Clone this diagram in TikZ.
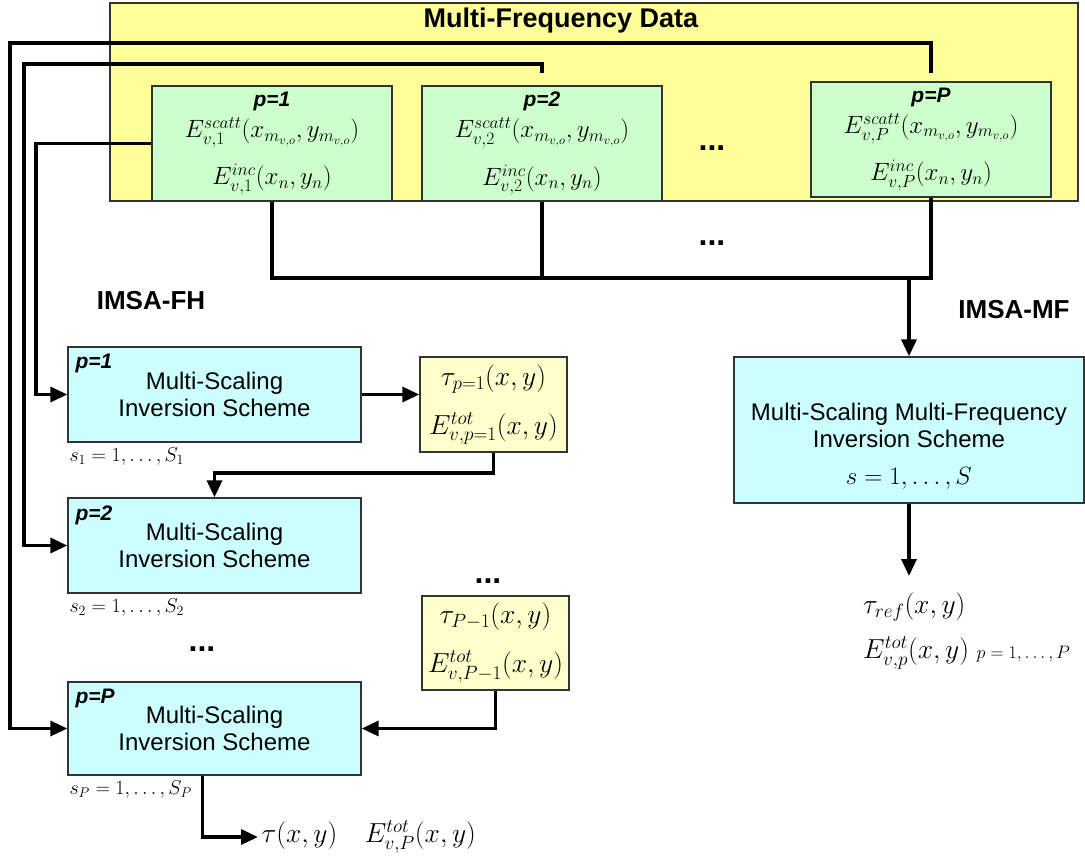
\documentclass[tikz,border=0pt]{standalone}
\usepackage{fix-cm}
\usepackage{amsmath}
\usepackage[no-math]{fontspec}
\setmainfont{Liberation Sans}
\usetikzlibrary{positioning,arrows.meta}
\definecolor{datayellow}{HTML}{FFFF99}
\definecolor{datagreen}{HTML}{CCFFCC}
\definecolor{schemecyan}{HTML}{CCFFFF}
\definecolor{fieldyellow}{HTML}{FFFFCC}
\newcommand{\boxrule}{1.4pt}
\newcommand{\wirewidth}{3.4pt}
\newcommand{\mathsize}{\fontsize{25}{29}\selectfont}
\newcommand{\bigmath}{\fontsize{27.5}{31}\selectfont}
\newcommand{\rangemath}{\fontsize{20}{24}\selectfont}
\newcommand{\smallmath}{\fontsize{18}{22}\selectfont}
\newcommand{\textsize}{\fontsize{24}{27}\selectfont}
\newcommand{\pname}[1]{{\fontsize{21}{23}\selectfont\bfseries\itshape #1}}

\begin{document}
\begin{tikzpicture}[x=1pt,y=-1pt,
    box/.style={draw=black!80, line width=\boxrule, inner sep=0pt, align=center},
    databox/.style={box, fill=datagreen, minimum width=240pt, minimum height=115pt, font=\mathsize},
    schemebox/.style={box, fill=schemecyan, minimum width=293pt, minimum height=95pt, font=\textsize},
    fieldbox/.style={box, fill=fieldyellow, minimum width=147pt, minimum height=95pt, font=\bigmath},
    wire/.style={line width=\wirewidth},
    link/.style={wire, -{Triangle[length=17pt,width=15pt]}},
    dots/.style={font=\fontsize{32}{32}\selectfont\bfseries},
    tag/.style={font=\fontsize{26}{28}\selectfont\bfseries},
    srange/.style={anchor=north west, inner sep=0pt, font=\rangemath}]
  \useasboundingbox (0,0) rectangle (1085,859);

  % data for every frequency
  \node[box, fill=datayellow, minimum width=968pt, minimum height=198pt] (mfd) at (594,102) {};
  \node[font=\fontsize{27}{30}\selectfont\bfseries] (mfdtitle) at (561,21) {Multi-Frequency Data};
  \node[databox] (d1) at (272,143.5) {\pname{p=1}\\[2pt] $E^{scatt}_{v,1}(x_{m_{v,o}},y_{m_{v,o}})$\\[16pt] $E^{inc}_{v,1}(x_n,y_n)$};
  \node[databox] (d2) at (542,143.5) {\pname{p=2}\\[2pt] $E^{scatt}_{v,2}(x_{m_{v,o}},y_{m_{v,o}})$\\[16pt] $E^{inc}_{v,2}(x_n,y_n)$};
  \node[databox] (dP) at (931,139.5) {\pname{p=P}\\[2pt] $E^{scatt}_{v,P}(x_{m_{v,o}},y_{m_{v,o}})$\\[16pt] $E^{inc}_{v,P}(x_n,y_n)$};
  \node[dots] (ddots) at (712,148) {...};
  \node[dots] (bdots) at (712,243) {...};

  % IMSA-FH
  \node[tag] (fh) at (151,301) {IMSA-FH};
  \node[schemebox] (m1) at (214.5,394.5) {Multi-Scaling\\Inversion Scheme};
  \node[schemebox] (m2) at (214.5,545.5) {Multi-Scaling\\Inversion Scheme};
  \node[schemebox, minimum height=93pt] (mP) at (214.5,728.5) {Multi-Scaling\\Inversion Scheme};
  \node[anchor=north west, inner sep=0pt] (m1p) at ([shift={(8,8)}]m1.north west) {\pname{p=1}};
  \node[anchor=north west, inner sep=0pt] (m2p) at ([shift={(8,8)}]m2.north west) {\pname{p=2}};
  \node[anchor=north west, inner sep=0pt] (mPp) at ([shift={(8,8)}]mP.north west) {\pname{p=P}};
  \node[srange] (s1) at ([shift={(2,5)}]m1.south west) {$s_1=1,\ldots,S_1$};
  \node[srange] (s2) at ([shift={(2,5)}]m2.south west) {$s_2=1,\ldots,S_2$};
  \node[srange] (sP) at ([shift={(2,5)}]mP.south west) {$s_P=1,\ldots,S_P$};
  \node[dots] (mdots) at (202,649) {...};
  \node[fieldbox] (t1) at (493.5,404.5) {$\tau_{p=1}(x,y)$\\[18pt] $E^{tot}_{v,p=1}(x,y)$};
  \node[fieldbox, minimum height=94pt] (t2) at (495.5,643) {$\tau_{P-1}(x,y)$\\[18pt] $E^{tot}_{v,P-1}(x,y)$};
  \node[dots] (tdots) at (488,581) {...};
  \node[anchor=west, font=\bigmath] (fhres) at (258,837) {$\tau(x,y)$\quad $E^{tot}_{v,P}(x,y)$};

  % IMSA-MF
  \node[tag] (mftag) at (1014,310) {IMSA-MF};
  \node[box, fill=schemecyan, minimum width=350pt, minimum height=146pt] (mf) at (909,430) {};
  \node[align=center, font=\textsize] (mftext) at (909,446) {Multi-Scaling Multi-Frequency\\Inversion Scheme\\[10pt] {\mathsize$s=1,\ldots,S$}};
  \node[anchor=north west, align=left, font=\bigmath, inner sep=0pt] (mfres) at (863,593) {$\tau_{ref}(x,y)$\\[14pt] $E^{tot}_{v,p}(x,y)$ {\smallmath$p=1,\ldots,P$}};
  \coordinate (mfend) at (909,576);

  % feeds from the data
  \coordinate (c1) at (10,43);
  \coordinate (c2) at (24,64);
  \coordinate (c3) at (36,143.5);
  \coordinate (bus) at (700,278);
  \coordinate (c4) at (300,473);
  \draw[link, shorten <=8pt] (dP.north) |- (c1) |- (mP.west);
  \draw[link, shorten <=12pt] (d2.north) |- (c2) |- (m2.west);
  \draw[link] (d1.west) -- (c3) |- (m1.west);
  \draw[wire] (d1.south) |- (bus) -| (dP.south);
  \draw[wire] (d2.south) -- (d2.south |- bus);
  \draw[link] (mf.north |- bus) -- (mf.north);

  % hops between the schemes
  \draw[link] (m1.east) -- (m1.east -| t1.west);
  \draw[link] (t1.south) |- (c4) -| (m2.north);
  \draw[link] (t2.south) |- (mP.east);
  \draw[link] ([xshift=-12pt]mP.south) |- (fhres.west);
  \draw[link] (mf.south) -- (mfend);
\end{tikzpicture}
\end{document}
